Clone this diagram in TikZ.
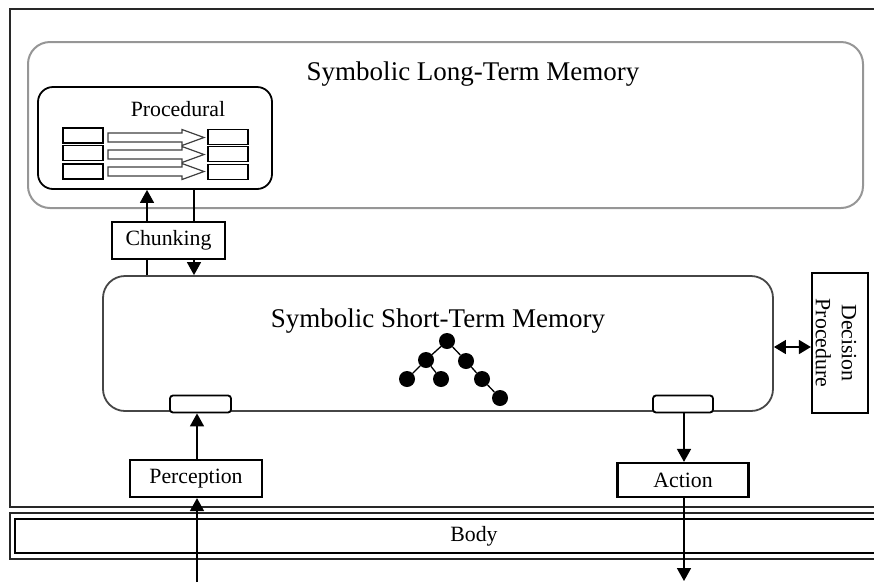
\documentclass[tikz,border=0pt]{standalone}
\usepackage{fontspec}
\setmainfont{Liberation Serif}
\usetikzlibrary{arrows.meta}
\definecolor{ltmgray}{RGB}{150,150,150}
\definecolor{stmgray}{RGB}{70,70,70}
\definecolor{framegray}{RGB}{40,40,40}
\tikzset{
  bigtxt/.style={font=\fontsize{27}{30}\selectfont, inner sep=0pt},
  txt/.style={font=\fontsize{21.8}{26}\selectfont},
  labelbox/.style={draw=black, line width=2.2pt, fill=white, inner sep=0pt, txt},
  port/.style={draw=black, line width=1.8pt, fill=white, rounded corners=3pt, inner sep=0pt},
  slot/.style={draw=black, line width=1.3pt, fill=white, inner sep=0pt, minimum width=40pt, minimum height=15pt},
  dot/.style={circle, fill=black, inner sep=0pt, minimum size=16pt},
  arr/.style={line width=1.6pt, -{Triangle[length=13pt,width=14pt]}},
  hollow/.style={draw=black!75, line width=1.2pt, fill=white, line join=miter},
}
\begin{document}
\begin{tikzpicture}[x=1pt, y=-1pt]
\useasboundingbox (0,0) rectangle (874,582);
\clip (0,0) rectangle (874,582);

% outer frame of the agent
\draw[framegray, line width=1.6pt] (10,9) rectangle (900,507);

% long-term memory
\node[draw=ltmgray, line width=2pt, rounded corners=22pt, minimum width=835pt, minimum height=166pt, inner sep=0pt] (ltm) at (445.5,125) {};
\node[bigtxt] (ltmtitle) at (473,74) {Symbolic Long-Term Memory};

% procedural memory with its rules
\node[draw=black, line width=1.8pt, rounded corners=15pt, fill=white, minimum width=234pt, minimum height=102pt, inner sep=0pt] (proc) at (155,138) {};
\node[txt, inner sep=0pt] (proctitle) at (178,109) {Procedural};

\node[slot] (l1) at (83,135.5) {};
\node[slot] (l2) at (83,153) {};
\node[slot] (l3) at (83,171.5) {};
\node[slot] (r1) at (228,137) {};
\node[slot] (r2) at (228,154) {};
\node[slot] (r3) at (228,172) {};

\foreach \yc in {137.5,154.5,171.5}{
  \draw[hollow] (108,\yc-4.5) -- (182,\yc-4.5) -- (182,\yc-8) -- (204,\yc) -- (182,\yc+8) -- (182,\yc+4.5) -- (108,\yc+4.5) -- cycle;
}

% chunking between short-term and procedural memory
\coordinate (upx) at (147,240);
\coordinate (downx) at (194,240);

% short-term memory
\node[draw=stmgray, line width=1.8pt, rounded corners=22pt, fill=white, minimum width=670pt, minimum height=135pt, inner sep=0pt] (stm) at (438,343.5) {};
\node[bigtxt] (stmtitle) at (438,321) {Symbolic Short-Term Memory};

\draw[arr] (stm.north -| upx) -- (proc.south -| upx);
\draw[arr] (proc.south -| downx) -- (stm.north -| downx);
\node[labelbox, minimum width=113pt, minimum height=37pt] (chunk) at (168.5,240.5) {Chunking};

% working memory graph
\node[dot] (t1) at (447,341) {};
\node[dot] (t2) at (426,360) {};
\node[dot] (t3) at (466,361) {};
\node[dot] (t4) at (407,379) {};
\node[dot] (t5) at (441,379) {};
\node[dot] (t6) at (482,379) {};
\node[dot] (t7) at (500,398) {};
\draw[line width=1.3pt] (t1) -- (t2) (t1) -- (t3) (t2) -- (t4) (t2) -- (t5) (t3) -- (t6) (t6) -- (t7);

% decision procedure
\node[labelbox, minimum width=56pt, minimum height=140pt] (dec) at (840,343) {};
\node[txt, rotate=-90, align=center, inner sep=0pt] (dectxt) at (836,343) {Decision\\Procedure};
\coordinate (dy) at (0,347);
\draw[line width=1.6pt, {Triangle[length=12pt,width=14pt]}-{Triangle[length=12pt,width=14pt]}] (stm.east |- dy) -- (dec.west |- dy);

% input and output ports
\node[port, minimum width=61pt, minimum height=17pt] (pin) at (200.5,404) {};
\node[port, minimum width=60pt, minimum height=17pt] (pout) at (683,404) {};

% body
\draw[black!85, line width=2.2pt] (10,513) rectangle (900,559);
\draw[black, line width=2pt] (15,519) rectangle (900,553);
\node[txt, inner sep=0pt] (body) at (474,536) {Body};

% perception
\node[labelbox, minimum width=132pt, minimum height=37pt] (perc) at (196,478.5) {Perception};
\coordinate (sense) at (197,582);
\draw[arr] (sense) -- (sense |- perc.south);
\draw[arr] (perc.north -| sense) -- (pin.south -| sense);

% action
\node[labelbox, minimum width=131pt, minimum height=34pt] (act) at (683,480) {Action};
\coordinate (effect) at (684,581);
\draw[arr] (pout.south -| effect) -- (act.north -| effect);
\draw[arr] (act.south -| effect) -- (effect);
\end{tikzpicture}
\end{document}
